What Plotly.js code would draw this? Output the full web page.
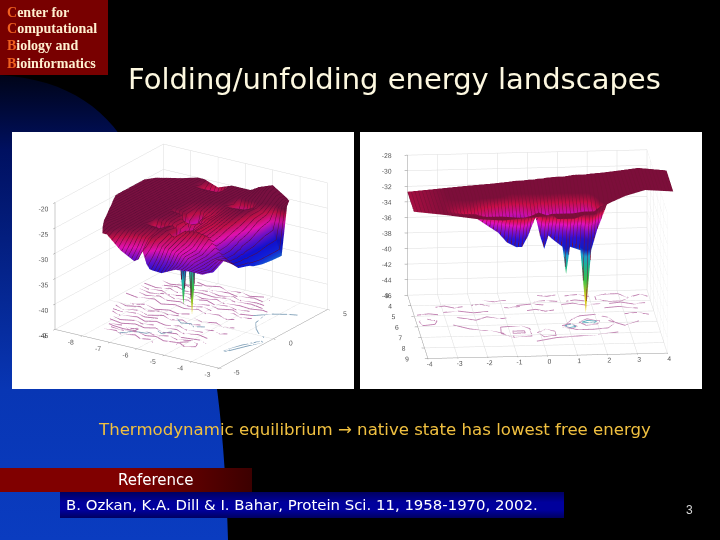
<!DOCTYPE html>
<html><head><meta charset="utf-8">
<script src="https://cdn.plot.ly/plotly-3.0.1.min.js"></script>
<style>
html,body{margin:0;padding:0;background:#000;width:720px;height:540px;overflow:hidden}
.bg{position:absolute}
#plot{position:absolute;left:0;top:0;width:720px;height:540px}
</style></head><body>
<div class="bg" style="left:0;top:0;width:720px;height:540px;background:linear-gradient(180deg,#000418 75px,#001060 150px,#0836b4 390px,#0a3cc0 540px);clip-path:path('M0,75 C70,80 110,110 135,160 C190,230 222,330 228,540 L0,540 Z')"></div>
<div class="bg" style="left:0;top:0;width:108px;height:75px;background:#780000"></div>
<div class="bg" style="left:0;top:468px;width:252px;height:24px;background:linear-gradient(90deg,#800000,#800000 50%,#3c0000)"></div>
<div class="bg" style="left:60px;top:492px;width:504px;height:26px;background:linear-gradient(180deg,#000060,#00009c 40%,#00009c 70%,#000060)"></div>
<div id="plot"></div>
<script>
var n=null;
// LEFT landscape
var leftX=[-9,-8.5,-8,-7.5,-7,-6.5,-6.35,-6.2,-6.05,-5.93,-5.8,-5.5,-5,-4.5,-4];
var leftY=[-4,-3.5,-3,-2,-1.1,-0.9,-0.7,0,0.4,0.58,0.76,1.5,2.5,3.3,3.8,4.5,5];
var leftLo=[-7.66,-7.85,-8,-8.3,-8.55,-8.6,-8.65,-8.85,-8.95,-9,-9,-9,-9,-9,-8.8,-8.1,-7.74];
var leftHi=[-4,-4,-4,-4,-4,-4,-4,-4,-4,-4,-4,-4,-4,-4,-4,-4.2,-4.5];
var leftZ=[
[n,n,n,-25.5,-28,-29.5,-29,-27,-29.5,-30.4,-30.5,-30.6,-29.3,-29,-29],
[n,n,n,-25,-26.5,-28,-27.5,-26.5,-28,-29,-29,-29.5,-29,-29,-29.3],
[n,n,-24.5,-25,-25.3,-26,-26,-25.5,-26.5,-27,-27,-27.5,-28,-29,-29.7],
[n,-25,-25,-25,-25,-25,-25.2,-25.2,-25.5,-26,-26,-26.5,-28,-29,-28.5],
[n,-25,-25,-25,-25,-30,-25.5,-25.5,-26,-33,-26,-25.5,-26,-29,-30.5],
[n,-25,-25,-25,-25,-26,-26,-27,-33,-41,-33,-26,-26.5,-29.5,-31],
[n,-25,-25,-25,-25,-25.5,-25.6,-26,-27,-33,-27,-26,-27,-30,-31.5],
[-25,-25,-25,-25,-25,-25.3,-25.6,-26,-26.2,-26.5,-26.5,-26,-26.5,-30,-32],
[-25,-25,-25,-25,-25,-25.3,-27,-34,-27,-26.3,-26.3,-26,-26.2,-29.5,-32.3],
[-25,-25,-25,-25,-25,-28,-34,-45,-34,-27,-26.3,-26,-26,-29.5,-32.6],
[-25,-25,-25,-25,-25,-25.5,-27,-34,-27,-26,-26,-25.8,-26,-29,-32.8],
[-25,-25,-25,-25,-25,-25.5,-25.5,-25.7,-25.8,-26,-26,-25.5,-25.5,-28.5,-33.3],
[-25,-25,-25,-25,-25,-25,-25,-25,-25.2,-25.2,-25.2,-25.2,-25,-27,-33.6],
[-25,-25,-25,-25,-25,-25,-25,-25,-25,-25,-25,-31,-25.3,-26.5,-33.7],
[n,-25,-25,-25,-25,-25,-25,-25,-25,-25,-25,-25,-25,-25.5,-24.5],
[n,n,-25,-25,-29,-25,-25,-25,-25,-25,-25,-24.5,-23.5,-24.5,n],
[n,n,-25,-25,-26,-25,-25,-25,-25,-25,-25,-24,-23,-24.8,n]];
var leftContours=[
[[-7.7,-7.2,-6.8,-6.4,-6.1,-5.7,-5.2,-4.9],[-3.1,-3.2,-3.0,-3.2,-3.0,-3.3,-3.1,-3.4]],
[[-8.1,-7.6,-7.2,-6.8,-6.5,-6.1,-5.7,-5.4,-4.8,-4.5],[-2.2,-2.4,-2.1,-2.3,-2.0,-2.3,-2.1,-2.4,-2.2,-2.4]],
[[-8.4,-8,-7.5,-7.1,-6.8,-6.4,-6.0,-5.6,-5.1],[-1.2,-1.5,-1.2,-1.5,-1.2,-1.4,-1.1,-1.4,-1.2]],
[[-8.6,-8.2,-7.8,-7.3,-6.9,-6.5,-6.2,-5.8,-5.5],[-0.4,-0.7,-0.4,-0.7,-0.3,-0.6,-0.3,-0.6,-0.4]],
[[-8.7,-8.2,-7.9,-7.4,-7.0,-6.6,-6.3],[0.5,0.2,0.5,0.2,0.5,0.3,0.6]],
[[-8.9,-8.4,-7.9,-7.5,-7.1,-6.7,-6.3,-5.9,-5.5,-5.1,-4.9],[1.3,1.1,1.4,1.0,1.3,1.1,1.4,1.1,1.3,1.0,1.2]],
[[-8.8,-8.3,-7.9,-7.4,-7,-6.6,-6.2,-5.8,-5.4,-5,-4.6],[2.2,2.0,2.3,2.0,2.2,1.9,2.2,2.0,2.3,2.0,2.2]],
[[-8.9,-8.4,-8,-7.6,-7.1,-6.7,-6.3,-5.9,-5.4,-5,-4.6,-4.4],[3.0,2.8,3.1,2.8,3.0,2.8,3.1,2.8,3.0,2.9,3.1,3.0]],
[[-8.6,-8.2,-7.7,-7.3,-6.9,-6.4,-6,-5.6,-5.1,-4.8],[3.8,3.6,3.9,3.6,3.8,3.6,3.9,3.6,3.8,3.7]],
[[-7.6,-7.2,-6.8,-6.4,-6,-5.6,-5.2,-4.9],[4.6,4.4,4.7,4.4,4.6,4.4,4.7,4.5]],
[[-7.8,-7.4,-7.1,-6.7,-6.4,-6.1,-5.9],[-3.6,-3.4,-3.7,-3.4,-3.7,-3.5,-3.8]],
[[-5.2,-5,-4.7,-4.6,-4.9,-5.2,-5.2],[-3.0,-2.7,-2.7,-3.1,-3.4,-3.4,-3.0]],
[[-7.9,-7.5,-7.2,-6.9,-6.9,-7.3,-7.7,-7.9],[-2.8,-2.6,-2.8,-2.6,-2.9,-3,-2.9,-2.8]],
[[-6.6,-6.2,-5.8,-5.4,-5,-4.7],[-2.7,-2.9,-2.6,-2.8,-2.5,-2.7]],
[[-8.2,-7.8,-7.4,-7,-6.7],[-1.8,-2.0,-1.7,-1.9,-1.7]],
[[-6.3,-5.9,-5.5,-5.1,-4.7],[-1.8,-1.6,-1.9,-1.6,-1.8]],
[[-8.5,-8.1,-7.7,-7.3,-6.9],[-0.9,-1.0,-0.8,-1.0,-0.8]],
[[-5.2,-4.9,-4.6,-4.4],[-0.9,-0.7,-0.9,-0.7]],
[[-8.7,-8.3,-7.9,-7.5,-7.2,-6.8,-6.5],[0.0,-0.2,0.1,-0.2,0.1,-0.1,0.1]],
[[-6,-5.6,-5.2,-4.8,-4.5],[0.2,0.0,0.3,0.0,0.2]],
[[-8.7,-8.3,-7.9,-7.5,-7.1,-6.7,-6.3,-5.9],[1.8,1.6,1.9,1.6,1.8,1.5,1.8,1.6]],
[[-5.6,-5.2,-4.8,-4.5],[1.7,1.9,1.6,1.8]],
[[-8.9,-8.5,-8.1,-7.7,-7.3,-6.9,-6.5,-6.1,-5.7,-5.3,-4.9],[2.6,2.4,2.6,2.3,2.6,2.4,2.7,2.4,2.6,2.4,2.6]],
[[-8.7,-8.3,-7.9,-7.5,-7,-6.5,-6.1,-5.7,-5.2,-4.7],[3.4,3.3,3.5,3.2,3.4,3.3,3.5,3.3,3.5,3.3]],
[[-8.1,-7.7,-7.3,-6.8,-6.3,-5.9,-5.4,-5],[4.2,4.0,4.3,4.0,4.2,4.0,4.3,4.1]]
];
var leftBlueContours=[
[[-7.2,-6.9,-6.5,-6.3,-6.1,-5.9],[-3.6,-3.0,-2.9,-2.3,-2.5,-2.0]],
[[-6.4,-6.1,-5.8,-5.6,-5.3],[-0.3,-0.7,-0.5,-0.8,-0.5]],
[[-4.4,-4.2,-3.9,-3.6,-3.3],[3.0,1.4,0.7,0.2,-0.1]],
[[-3.6,-3.3,-3.1,-3.2,-3.5,-3.7,-3.6],[-2.8,-1.5,-0.7,-0.6,-1.6,-2.8,-2.8]],
[[-4.6,-4.2,-3.8,-3.5],[2.2,2.9,3.3,3.5]]
];
// RIGHT landscape
var rightX=[-4,-3,-2,-1.2,-0.9,-0.6,-0.4,-0.2,0.05,0.2,0.34,0.48,0.62,0.95,1.07,1.2,1.55,1.73,1.91,2.1,2.5,3,3.7,4.65];
var rightY=[3,4,4.6,5,5.4,5.9,6.5];
var rightYHi=[4.9,5.5,6.1,6.5,6.5,6.5,6.5,6.5,6.5,6.5,6.5,6.5,6.4,6.4,6.4,6.4,6.2,6.2,6.2,6,5.8,5.4,5.1,5];
var rightZ=[
[-32.7,-32.4,-32.1,-31.9,-31.8,-31.7,-31.6,-31.6,-31.5,-31.5,-31.4,-31.4,-31.3,-31.2,-31.2,-31.2,-31,-31,-31,-30.9,-30.8,-30.6,-30.3,-30.7],
[-32.7,-32.4,-32.1,-32.2,-32.4,-32.6,-32.6,-32.6,-32.6,-32.6,-32.6,-32.6,-32.6,-32.7,-32.7,-32.7,-32.7,-32.7,-32.7,-32.3,-30.8,-30.6,-30.3,-30.7],
[-32.7,-32.4,-32.7,-33.8,-34.3,-34.6,-34.6,-34,-33.5,-34,-34.6,-34.2,-34.3,-34.6,-34.6,-34.6,-34.3,-35.2,-34.3,-33.2,-31,-30.6,-30.3,-30.7],
[-32.7,-32.4,-33.4,-35.5,-36.8,-37.4,-37.4,-36,-33.5,-36,-37.7,-36,-36.5,-37.5,-41,-37.5,-38,-46,-38,-35.5,-31.5,-30.6,-30.3,-30.7],
[n,-32.4,-32.5,-33.5,-34.3,-34.8,-34.8,-34,-33,-34,-34.5,-34,-34.2,-34.5,-35.5,-34.5,-34.3,-36,-34.3,-33,-31,-30.6,-30.3,n],
[n,n,-32.2,-32.2,-32.3,-32.4,-32.4,-32.2,-31.8,-32,-32.2,-32,-32,-32,-32,-32,-31.8,-31.8,-31.8,-31.2,-30.8,n,n,n],
[n,n,n,-31.9,-31.8,-31.7,-31.6,-31.6,-31.5,-31.5,-31.4,-31.4,n,n,n,n,n,n,n,n,n,n,n,n]];
var rightContours=[
[[-3.9,-3.5,-3.2],[4.9,4.8,4.9]],
[[-3.9,-3.6,-3.3,-3.4,-3.8,-3.9],[5.5,5.3,5.5,5.8,5.9,5.5]],
[[-3,-2.5,-2,-1.5],[4.7,4.6,4.8,4.7]],
[[-1.2,-0.8,-0.4],[4.3,4.4,4.3]],
[[0.1,0.5,0.9],[3.9,3.8,3.9]],
[[-0.5,0,0.4],[4.2,4.1,4.2]],
[[1.2,1.6,2],[3.4,3.3,3.5]],
[[2.2,2.6,3,3.3,3,2.6,2.2,2.2],[3.5,3.3,3.3,3.7,4,4,3.8,3.5]],
[[3.4,3.7,3.95],[3.6,3.4,3.6]],
[[1,1.4,1.8,2.3],[4.2,4.1,4.3,4.2]],
[[2.4,2.9,3.5],[4.6,4.5,4.7]],
[[-2.6,-2,-1.6,-1.1,-0.6],[5.2,5.5,5.2,5.4,5.2]],
[[-2.8,-2.3,-1.7,-1.2,-0.9],[5.9,6.3,6.5,6.8,7.1]],
[[-1.3,-1.25,-0.6,-0.3,-0.3,-0.9,-1.3],[6.8,6.2,6.1,6.4,7.1,7.2,6.8]],
[[-0.9,-0.9,-0.5,-0.5,-0.9],[6.6,6.8,6.8,6.6,6.6]],
[[-0.1,0.2,0.5,0.5,0.1,-0.1],[6.8,6.5,6.7,7.1,7.2,6.8]],
[[0.8,1.2,1.5,2,2.4,2.6,2.3,1.8,1.3,0.8],[6.4,5.6,5.3,5.2,5.5,6,6.5,6.6,6.6,6.4]],
[[1.4,1.7,2.1,2,1.6,1.4],[5.9,5.6,5.8,6.1,6.2,5.9]],
[[0.8,1.1,1.3,1.1,0.8],[6.2,6,6.3,6.5,6.2]],
[[2.4,2.9,3.4],[5.8,6.3,5.9]],
[[-0.2,0.5,1.2,1.9,2.6],[7.6,7.3,7.2,7.1,6.9]],
[[-3.2,-2.9,-2.6,-2.3],[4.2,4.1,4.3,4.2]],
[[-2.0,-1.7,-1.4],[4.1,4.0,4.2]],
[[-0.2,0.1,0.4,0.7],[4.7,4.6,4.8,4.7]],
[[1.2,1.5,1.8],[3.9,3.8,3.9]],
[[2.6,3,3.4,3.8],[4.2,4.1,4.3,4.2]],
[[0.3,0.6,0.9],[3.3,3.4,3.3]],
[[-1.6,-1.2,-0.8],[3.7,3.8,3.7]],
[[3,3.4,3.8],[5.2,5.1,5.3]]
];
var rightBlueContours=[
[[1.5,1.7,2,1.9,1.5],[5.9,5.75,5.85,6.0,5.9]],
[[0.9,1.1,1.25,1,0.9],[6.2,6.1,6.3,6.4,6.2]]
];
var leftXTicks=[-9,-8,-7,-6,-5,-4,-3], leftYTicks=[-5,0,5], leftZTicks=[-45,-40,-35,-30,-25,-20];
var rightXTicks=[-4,-3,-2,-1,0,1,2,3,4], rightYTicks=[3,4,5,6,7,8,9], rightZTicks=[-46,-44,-42,-40,-38,-36,-34,-32,-30,-28];
var leftScale=[[0,'#f0e020'],[0.05,'#e8e020'],[0.24,'#40d040'],[0.43,'#20c8c8'],[0.6,'#1020d8'],[0.67,'#1010d0'],[0.76,'#7010c8'],[0.83,'#e010b0'],[0.9,'#c01048'],[0.95,'#781040'],[1,'#781040']];
var rightScale=[[0,'#f8d818'],[0.12,'#e8e020'],[0.24,'#40d850'],[0.34,'#20c8a0'],[0.42,'#20b0e0'],[0.47,'#1020d8'],[0.55,'#3010d8'],[0.61,'#8010d0'],[0.67,'#e010c0'],[0.72,'#e01050'],[0.76,'#8a1040'],[1,'#8a1040']];

// Boundary rows/columns collapse onto the outline of the sampled region
function nearestFill(row){return row.map(function(v,i){if(v!==null)return v;for(var d=1;d<row.length;d++){if(i+d<row.length&&row[i+d]!==null)return row[i+d];if(i-d>=0&&row[i-d]!==null)return row[i-d]}return null})}
var lx=leftY.map(function(_,i){return leftX.map(function(v){return Math.min(leftHi[i],Math.max(leftLo[i],v))})});
var ly=leftY.map(function(v){return leftX.map(function(){return v})});
var lz=leftZ.map(nearestFill);
var rx=rightY.map(function(){return rightX.slice()});
var ry=rightY.map(function(v){return rightX.map(function(_,j){return Math.min(v,rightYHi[j])})});
var rzT=rightX.map(function(_,j){return nearestFill(rightY.map(function(_,i){return rightZ[i][j]}))});
var rz=rightY.map(function(_,i){return rightX.map(function(_,j){return rzT[j][i]})});

function floorLines(list,zv,color){return list.map(function(c){return {type:'scatter3d',mode:'lines',x:c[0],y:c[1],z:c[0].map(function(){return zv}),line:{color:color,width:1.8},hoverinfo:'skip',showlegend:false,scene:''}})}
function ax(tv,rng){return {range:rng,tickmode:'array',tickvals:tv,ticktext:tv.map(String),tickangle:0,showgrid:true,gridcolor:'#dcdcdc',gridwidth:1,showbackground:false,showline:true,linecolor:'#999',zeroline:false,showspikes:false,ticks:'outside',ticklen:3,tickcolor:'#888',tickfont:{family:'Liberation Sans',size:9,color:'#555'},title:{text:''}}}
function hidden(rng){return {range:rng,visible:false,showgrid:false,showbackground:false,showline:false,zeroline:false,showticklabels:false,showspikes:false,title:{text:''}}}
var light={ambient:0.9,diffuse:0.35,specular:0.02,roughness:1,fresnel:0};
var surfL={type:'surface',x:lx,y:ly,z:lz,cmin:-45,cmax:-24,colorscale:leftScale,showscale:false,lighting:light,scene:'scene',hoverinfo:'skip',
 contours:{x:{show:true,start:-9,end:-4,size:0.12,color:'#5a0c34',width:1,highlight:false},y:{show:false,highlight:false},z:{show:false,highlight:false}}};
var surfR={type:'surface',x:rx,y:ry,z:rz,cmin:-46,cmax:-28,colorscale:rightScale,showscale:false,lighting:light,scene:'scene3',hoverinfo:'skip',
 contours:{x:{show:true,start:-4,end:4.65,size:0.12,color:'#741034',width:1,highlight:false},y:{show:false,highlight:false},z:{show:false,highlight:false}}};
var traces=[surfL,surfR];
floorLines(leftContours,-45,'#b870a8').forEach(function(t){t.scene='scene';traces.push(t)});
floorLines(leftBlueContours,-45,'#80a0b8').forEach(function(t){t.scene='scene';traces.push(t)});
floorLines(rightContours,-46,'#c080b0').forEach(function(t){t.scene='scene2';traces.push(t)});
floorLines(rightBlueContours,-46,'#60b0c0').forEach(function(t){t.scene='scene2';traces.push(t)});
function an(px,py,text,size,color,family,extra){var o={xref:'paper',yref:'paper',x:px/720,y:1-py/540,xanchor:'left',yanchor:'middle',showarrow:false,text:text,align:'left',font:{size:size,color:color,family:family}};if(extra)for(var k in extra)o[k]=extra[k];return o}
var hd='Liberation Serif',cap='DejaVu Sans';
function h(l,r){return '<b><span style="color:#f06020">'+l+'</span>'+r+'</b>'}
var domR={x:[360/720,702/720],y:[1-389/540,1-132/540]};
var layout={width:720,height:540,margin:{l:0,r:0,t:0,b:0},paper_bgcolor:'rgba(0,0,0,0)',plot_bgcolor:'rgba(0,0,0,0)',showlegend:false,
 shapes:[
  {type:'rect',xref:'paper',yref:'paper',x0:12/720,x1:354/720,y0:1-389/540,y1:1-132/540,fillcolor:'#fff',line:{width:0},layer:'below'},
  {type:'rect',xref:'paper',yref:'paper',x0:360/720,x1:702/720,y0:1-389/540,y1:1-132/540,fillcolor:'#fff',line:{width:0},layer:'below'}],
 scene:{domain:{x:[12/720,354/720],y:[1-389/540,1-132/540]},bgcolor:'#fff',aspectmode:'manual',aspectratio:{x:1.53,y:1.53,z:1.056},
  camera:{projection:{type:'orthographic'},eye:{x:0.922,y:-1.51,z:0.64},up:{x:0,y:0,z:1},center:{x:-0.048,y:-0.043,z:-0.033}},
  xaxis:ax(leftXTicks,[-9,-3]),yaxis:ax(leftYTicks,[-5,5]),zaxis:ax(leftZTicks,[-45,-20])},
 scene2:{domain:domR,bgcolor:'#fff',aspectmode:'manual',aspectratio:{x:1.87,y:1.87,z:1.13},
  camera:{projection:{type:'orthographic'},eye:{x:-0.22,y:-2.0,z:0.5},up:{x:0,y:0,z:1},center:{x:-0.051,y:-0.008,z:-0.048}},
  xaxis:ax(rightXTicks,[-4,4]),yaxis:ax(rightYTicks,[9,3]),zaxis:ax(rightZTicks,[-46,-28])},
 scene3:{domain:domR,bgcolor:'rgba(0,0,0,0)',aspectmode:'manual',aspectratio:{x:2.022,y:1.87,z:1.13},
  camera:{projection:{type:'orthographic'},eye:{x:-0.296,y:-2.0,z:0.5},up:{x:0,y:0,z:1},center:{x:-0.127,y:-0.008,z:-0.048}},
  xaxis:hidden([-4,4.65]),yaxis:hidden([9,3]),zaxis:hidden([-46,-28])},
 annotations:[
  an(5,12,h('C','enter for'),14,'#fff0d0',hd),
  an(5,29,h('C','omputational'),14,'#fff0d0',hd),
  an(5,46,h('B','iology and'),14,'#fff0d0',hd),
  an(5,63,h('B','ioinformatics'),14,'#fff0d0',hd),
  an(126,79,'Folding/unfolding energy landscapes',29,'#fdf8e0',cap),
  an(96,429,'Thermodynamic equilibrium → native state has lowest free energy',16.6,'#f0c040',cap),
  an(116,480,'Reference',15,'#fff',cap),
  an(64,505,'B. Ozkan, K.A. Dill &amp; I. Bahar, Protein Sci. 11, 1958-1970, 2002.',14.9,'#fff',cap),
  an(684,510,'3',12,'#d8d8d8','Liberation Sans')]
};
Plotly.newPlot('plot',traces,layout,{staticPlot:false,displayModeBar:false});
</script>
</body></html>
